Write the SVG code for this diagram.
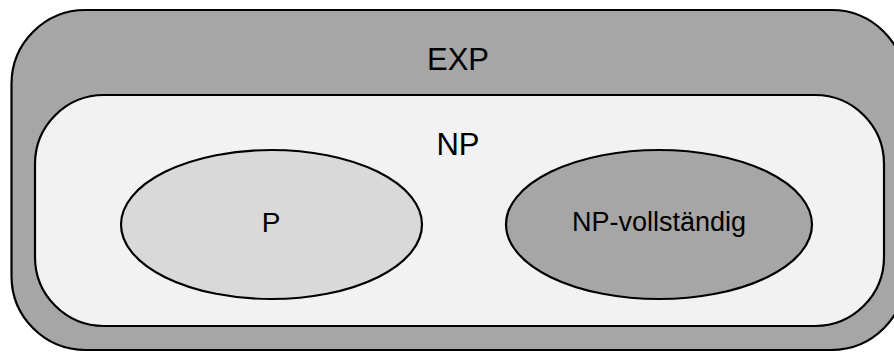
<svg xmlns="http://www.w3.org/2000/svg" width="894" height="352" viewBox="0 0 894 352">
<style>
.shape{stroke:#000;stroke-width:2.2}
.lbl{font-family:"Liberation Sans",Arial,sans-serif;fill:#000;text-anchor:middle}
</style>
<rect width="894" height="352" fill="#fff"/>
<g id="exp">
<rect class="shape" x="11.5" y="10" width="894" height="340" rx="74" ry="74" fill="#a6a6a6"/>
<text class="lbl" x="458" y="70" font-size="31">EXP</text>
</g>
<g id="np">
<rect class="shape" x="35" y="95" width="849" height="231" rx="69" ry="69" fill="#f2f2f2"/>
<text class="lbl" x="458" y="155" font-size="31">NP</text>
</g>
<g id="p">
<ellipse class="shape" cx="271.5" cy="224.5" rx="150.5" ry="74.5" fill="#d9d9d9"/>
<text class="lbl" x="271" y="232" font-size="28">P</text>
</g>
<g id="npc">
<ellipse class="shape" cx="659" cy="224.5" rx="153" ry="74.5" fill="#a6a6a6"/>
<text class="lbl" x="659" y="231" font-size="27">NP-vollständig</text>
</g>
<g id="connectors"/>
</svg>
